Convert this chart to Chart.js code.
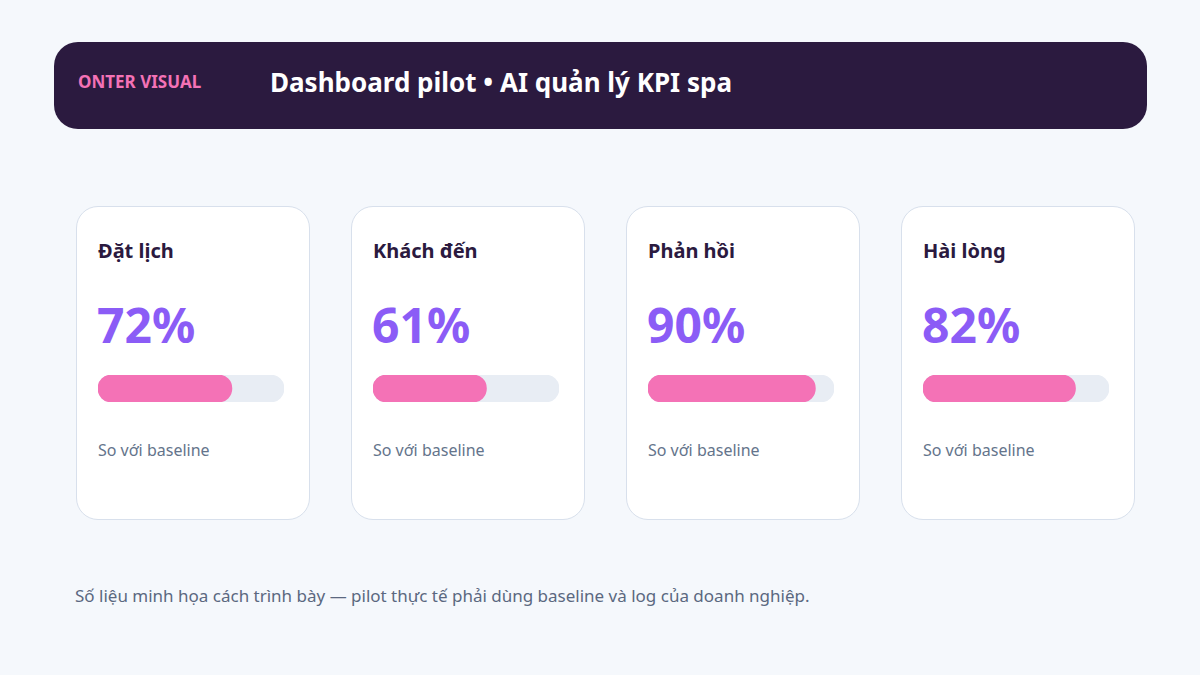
<!DOCTYPE html>
<html>
<head>
<meta charset="utf-8">
<script src="https://cdn.jsdelivr.net/npm/chart.js@4"></script>
<style>
  body { margin: 0; width: 1200px; height: 675px; background: #f5f8fc; font-family: "Noto Sans", sans-serif; position: relative; overflow: hidden; }
  .header { position: absolute; left: 54px; top: 42px; width: 1093px; height: 87px; background: #2b1a3f; border-radius: 24px; }
  .brand { position: absolute; left: 24px; top: 28px; color: #f472b6; font-weight: 700; font-size: 17px; }
  .title { position: absolute; left: 216px; top: 22px; color: #fff; font-weight: 700; font-size: 26px; }
  .card { position: absolute; top: 206px; width: 232px; height: 312px; background: #fff; border: 1.5px solid #d8e0ec; border-radius: 22px; }
  .card h3 { position: absolute; left: 21px; top: 30px; margin: 0; font-size: 20px; font-weight: 700; color: #2b1a3f; }
  .card .val { position: absolute; left: 20px; top: 85px; font-size: 48px; font-weight: 700; color: #8b5cf6; }
  .card .bar { position: absolute; left: 21px; top: 168px; width: 186px; height: 27px; }
  .card .sub { position: absolute; left: 21px; top: 232px; font-size: 16px; color: #64748b; }
  .note { position: absolute; left: 75px; top: 584px; font-size: 17px; color: #5b6880; }
</style>
</head>
<body>
<div class="header"><div class="brand">ONTER VISUAL</div><div class="title">Dashboard pilot • AI quản lý KPI spa</div></div>
<div id="cards"></div>
<div class="note">Số liệu minh họa cách trình bày — pilot thực tế phải dùng baseline và log của doanh nghiệp.</div>
<script>
const categories = ['Đặt lịch', 'Khách đến', 'Phản hồi', 'Hài lòng'];
const values = [72, 61, 90, 82];
const subLabel = 'So với baseline';
const cardLefts = [76, 351, 626, 901];

const wrap = document.getElementById('cards');
categories.forEach((name, i) => {
  const card = document.createElement('div');
  card.className = 'card';
  card.style.left = cardLefts[i] + 'px';
  card.innerHTML = `<h3>${name}</h3><div class="val">${values[i]}%</div>
    <div class="bar"><canvas></canvas></div><div class="sub">${subLabel}</div>`;
  wrap.appendChild(card);
  new Chart(card.querySelector('canvas'), {
    type: 'bar',
    data: {
      labels: [name],
      datasets: [{
        data: [values[i]],
        backgroundColor: '#f472b6',
        borderRadius: 14,
        borderSkipped: false,
        order: 1
      }, {
        data: [100],
        backgroundColor: '#e8edf4',
        borderRadius: 14,
        borderSkipped: false,
        order: 2
      }]
    },
    options: {
      indexAxis: 'y',
      responsive: true,
      maintainAspectRatio: false,
      animation: false,
      datasets: { bar: { grouped: false, barPercentage: 1, categoryPercentage: 1 } },
      plugins: { legend: { display: false }, tooltip: { enabled: false } },
      scales: {
        x: { display: false, min: 0, max: 100 },
        y: { display: false }
      }
    }
  });
});
</script>
</body>
</html>
